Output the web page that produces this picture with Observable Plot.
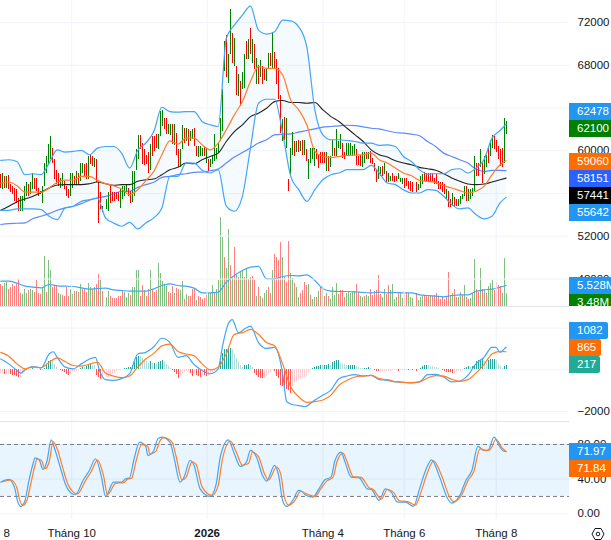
<!DOCTYPE html>
<html><head><meta charset="utf-8">
<script src="https://cdn.jsdelivr.net/npm/d3@7"></script>
<script src="https://cdn.jsdelivr.net/npm/@observablehq/plot@0.6"></script>
<style>
html,body{margin:0;padding:0;background:#fff;overflow:hidden}
#root{position:relative;width:611px;height:540px;overflow:hidden;font-family:"Liberation Sans",sans-serif}
#root svg{position:absolute;left:0}
.tag{position:absolute;left:569px;color:#fff;font-size:11.5px;padding-left:8px;box-sizing:border-box;line-height:17px;overflow:hidden;white-space:nowrap}
.sep{position:absolute;left:0;width:569px;height:1px;background:#e0e3eb}
</style></head><body><div id="root"></div>
<script>
// ---- Price bars, thousands ----
const priceHigh = [
57.8,57.9,57.6,57.6,57.7,56.8,56.7,56.5,56.4,55.5,
55.7,55.7,56.7,57.0,56.8,57.0,57.9,57.4,57.4,56.5,
56.2,56.7,58.8,59.5,60.6,61.3,60.2,59.2,58.2,57.9,
57.4,57.9,57.1,56.7,56.4,57.9,57.9,57.6,58.1,57.9,
58.8,58.8,58.7,58.8,59.5,59.6,59.5,59.3,59.2,57.0,
56.1,54.8,55.4,56.1,56.7,56.1,56.1,56.1,56.1,56.4,
56.7,56.7,56.8,56.5,56.2,58.1,58.1,60.1,61.4,61.4,
60.7,60.1,59.6,59.8,60.6,61.3,61.3,61.5,61.5,63.7,
63.8,63.0,63.0,62.5,62.5,62.5,62.5,61.6,60.1,60.1,
62.4,62.1,62.1,62.0,61.8,62.0,62.1,60.4,60.4,60.4,
60.2,60.4,60.2,59.2,59.2,59.6,61.5,60.2,60.7,63.0,
65.7,70.2,70.8,69.0,73.2,71.0,70.5,67.9,67.1,66.5,
67.3,69.0,70.2,70.4,71.4,70.4,69.9,68.6,68.0,68.4,
67.9,67.6,67.7,69.1,69.1,71.1,69.2,68.5,67.7,65.2,
62.9,63.1,63.0,57.3,60.2,61.7,60.9,60.9,61.0,60.9,
61.0,61.0,60.1,59.2,60.2,60.2,60.2,60.1,59.6,59.8,
59.8,59.8,59.8,59.5,59.5,61.0,60.2,62.0,60.9,61.5,
60.7,59.8,60.7,60.7,60.7,60.4,60.6,60.1,59.5,59.6,
59.8,59.8,59.8,59.8,59.9,59.3,58.8,58.2,58.5,58.4,
58.5,58.8,58.1,57.9,57.6,57.9,57.6,57.6,57.9,57.4,
57.4,57.4,57.4,57.1,57.1,57.0,57.0,56.8,57.6,57.8,
58.0,57.9,57.9,57.9,57.9,57.4,57.8,57.1,57.0,57.0,
56.8,56.4,56.2,55.4,56.0,55.6,55.4,55.4,55.7,55.9,
56.7,56.7,56.4,56.4,56.5,59.5,58.8,58.8,60.1,58.8,
59.5,59.6,60.2,61.0,61.4,61.3,61.0,60.4,60.1,60.2,
63.0,62.7];
const priceLow = [
56.5,56.4,56.5,56.5,56.4,56.1,55.9,55.3,55.1,54.3,
54.3,54.3,55.3,55.7,55.7,55.9,56.4,56.4,56.2,55.7,
55.9,55.1,56.7,57.9,58.7,59.2,58.8,57.3,56.8,56.7,
56.5,56.7,56.4,55.7,55.5,55.7,56.5,56.8,56.8,56.8,
57.1,57.9,57.6,57.3,57.3,58.7,58.5,58.4,57.0,53.2,
54.5,54.2,54.5,54.3,55.1,55.3,55.3,55.4,55.3,54.6,
55.4,55.7,56.1,55.7,55.1,55.2,55.7,58.2,59.2,60.1,
58.7,58.6,58.7,57.9,58.2,59.5,59.9,60.2,60.1,61.3,
62.3,62.0,61.5,61.5,61.4,60.6,60.5,59.6,58.4,58.4,
60.1,60.7,60.9,60.4,60.9,61.1,60.4,59.5,59.4,59.5,
59.5,59.5,58.8,58.1,58.4,58.7,59.0,59.2,59.7,60.9,
61.8,67.4,66.9,66.3,69.0,68.2,67.9,65.2,65.1,64.1,
65.7,65.8,68.5,68.5,69.0,68.2,67.6,66.2,66.2,66.9,
66.2,66.6,66.5,67.6,67.9,67.7,67.6,66.2,64.8,61.6,
60.9,61.0,60.2,56.2,57.8,59.6,59.5,59.8,59.8,59.9,
59.6,59.6,59.0,57.3,58.8,59.2,58.5,59.2,58.3,58.8,
58.8,58.8,58.1,58.1,58.4,59.5,59.5,59.5,60.2,60.1,
59.3,59.2,59.5,59.6,59.5,59.5,59.6,58.6,58.6,58.5,
58.4,58.8,59.2,59.2,58.8,58.7,58.1,57.0,57.3,57.6,
57.6,57.8,56.9,57.0,57.1,57.1,57.0,57.1,57.3,57.0,
56.8,56.5,56.7,56.4,56.2,56.1,56.1,56.3,56.5,56.8,
57.1,57.1,57.1,57.1,57.1,56.8,56.8,56.4,56.4,56.1,
55.9,55.4,54.7,54.7,54.8,54.7,54.8,54.8,55.0,55.4,
55.7,55.3,55.3,55.4,55.7,56.2,57.6,57.6,58.4,56.9,
57.8,58.4,58.8,59.5,60.2,60.1,59.8,59.2,58.5,58.4,
58.8,61.5];
const barDir =
"rgrgrrrrrr"+"ggggrggrrr"+"rgggggrrrr"+"ggrrrggrgr"+"ggrrgrrgrr"+
"rgggrrrrrg"+"gggrrggggr"+"rrrrgrrrgg"+"grrggrgrrg"+"grgrggrrgg"+
"grgrgggggg"+"ggrggrgrgr"+"ggrgrgrgrg"+"rrggrgrrrr"+"grgrggrgrg"+
"rgrggggrrr"+"rrgrggrggg"+"rrgggggrrr"+"ggrgrrrrgg"+"rgrggrrrgg"+
"grrrrrrggg"+"rrrrrrrrrr"+"rgrrgrrggg"+"grggggrrgr"+"ggrggrrrrr"+"gg";

// ---- Volume, millions ----
const volume = [
5.8,5.3,6.1,6.4,4.6,4.9,5.8,5.3,5.8,7.1,
3.3,3.2,4.6,3.3,4.2,4.6,4.2,3.8,6.8,3.3,
3.2,4.9,13.2,3.7,12.1,9.5,4.9,5.3,5.3,3.3,
3.1,2.8,2.6,4.9,2.6,4.4,3.2,3.9,3.9,3.8,
5.8,4.5,4.8,3.8,6.1,4.9,4.6,4.9,5.8,8.4,
6.8,3.9,2.3,3.9,2.7,2.0,2.0,2.2,2.6,2.6,
4.2,3.7,2.3,3.3,2.9,4.9,4.9,9.5,9.6,2.6,
5.5,4.2,2.6,4.4,9.5,4.6,3.8,4.2,11.2,8.8,
6.6,5.8,5.3,3.6,3.3,5.3,3.3,4.8,4.4,4.2,
6.6,1.8,3.2,2.7,2.5,4.6,4.6,1.6,2.6,2.3,
1.8,2.0,2.9,3.5,3.3,5.5,3.3,4.6,6.8,23.5,
18.2,13.0,9.9,20.3,10.8,7.3,15.4,8.2,7.7,9.3,
9.6,7.7,9.9,7.1,7.5,7.9,6.8,2.5,5.1,2.7,
2.0,3.3,4.2,5.1,3.5,9.5,13.7,13.0,12.1,16.8,
13.0,7.7,6.4,17.2,8.6,7.3,6.0,5.1,2.3,3.3,
4.2,6.4,5.5,5.8,2.9,1.8,2.3,2.3,3.9,5.3,
5.3,2.6,3.5,2.5,1.8,4.9,2.9,6.0,3.2,4.2,
4.2,2.3,3.3,3.8,3.5,3.8,3.9,5.8,3.8,2.6,
2.3,2.6,2.9,2.5,4.6,2.9,4.0,4.2,8.2,3.2,
2.3,4.6,3.2,5.5,4.2,5.8,1.8,2.3,3.3,3.8,
2.0,3.3,3.8,3.3,2.3,2.0,3.3,1.6,2.3,2.5,
2.9,2.9,2.6,2.9,2.6,2.9,3.3,2.6,1.8,2.3,
1.8,2.3,9.0,2.9,3.5,4.4,2.3,2.3,3.8,2.9,
5.5,2.3,1.8,2.0,3.3,12.4,4.4,3.8,10.1,4.6,
4.2,3.5,5.3,6.1,6.8,4.2,6.4,5.5,5.3,3.3,
12.7,3.48];
const volDir =
"rrggrrrrrr"+"rgggrggrrr"+"rggrggrrrg"+"grrrrggrgr"+"grrrggrgrr"+
"grggrrrrrr"+"rgggrggggr"+"rgrrgrrrgg"+"gggrrrgrrg"+"grgrrrrgrr"+
"rrrgggrggg"+"grggrgrgrg"+"grgrgrrgrg"+"rggrrgrrrr"+"grrrggrggr"+
"rrrgrggrgr"+"grgrggggrr"+"rrgggggrrg"+"grggrrrrrr"+"ggrrggggrg"+
"grrgggrggg"+"rrrgrrrrrr"+"rrrggrrggr"+"grrgggrrgr"+"grgggrrrrg"+"gg";

// ---- Sampled indicator lines (bar index, then values) ----
const lineIdx = [0,4,8,12,16,20,24,28,32,36,40,44,48,52,56,60,64,68,72,76,
80,84,88,92,96,100,104,108,112,116,120,124,128,132,136,140,144,148,152,156,
160,164,168,172,176,180,184,188,192,196,200,204,208,212,216,220,224,228,232,236,
240,244,248,251];
const bbUpper = [59.10,59.16,59.00,57.76,57.85,57.76,58.85,60.09,59.88,59.94,
60.03,59.63,60.25,60.40,60.40,59.78,58.38,60.03,60.72,61.80,
64.07,63.67,63.61,63.67,63.67,62.74,62.43,62.27,70.51,71.76,
72.69,73.53,71.29,70.92,71.13,72.22,72.16,71.60,69.73,63.83,
61.49,61.03,61.03,60.96,60.87,60.72,60.72,60.50,60.56,60.40,
59.47,59.00,58.23,57.82,57.85,57.85,58.23,58.32,57.92,58.38,
59.16,61.18,61.90,62.478];
const bbLower = [54.43,54.43,54.56,54.56,54.56,54.50,53.87,53.56,54.65,54.81,
55.27,55.43,55.58,53.72,53.25,52.94,53.31,52.69,53.25,53.72,
54.65,57.61,57.61,58.85,58.85,58.17,57.92,58.23,54.81,54.34,
55.74,60.25,64.45,64.82,64.82,61.65,57.61,56.36,55.27,56.36,
57.29,57.76,57.92,58.23,58.23,58.23,58.63,57.92,56.98,56.83,
56.36,56.05,56.05,56.36,56.30,55.74,54.96,54.56,54.65,54.03,
53.62,53.87,55.12,55.642];
const ma20 = [56.98,57.08,56.73,56.14,56.14,56.11,56.52,57.05,57.26,57.26,
57.61,57.61,57.23,56.92,56.73,56.42,55.89,56.36,57.20,58.07,
59.63,60.93,60.62,61.18,61.18,60.56,60.09,60.72,61.96,63.36,
64.60,66.47,67.87,67.71,67.71,67.09,64.76,63.83,62.43,59.94,
59.47,59.38,59.47,59.56,59.60,59.63,59.78,59.16,58.85,58.38,
57.92,57.67,57.23,57.14,57.05,56.73,56.52,56.27,56.05,56.21,
56.67,57.76,58.69,59.06];
const ma50 = [54.43,54.81,55.21,55.49,55.74,56.11,56.52,56.80,56.83,56.83,
56.83,56.92,57.08,56.92,56.76,56.83,56.83,57.14,57.29,57.36,
57.76,58.23,58.45,58.85,58.79,59.16,59.47,59.78,60.87,61.80,
62.43,63.20,63.52,63.98,64.60,64.70,64.51,64.51,64.45,64.51,
63.83,63.20,62.74,62.11,61.49,60.87,60.09,59.63,59.41,59.07,
58.85,58.69,58.45,58.32,58.17,57.86,57.45,57.14,56.89,56.83,
56.89,57.08,57.29,57.441];
const ma200 = [53.10,53.19,53.22,53.25,53.66,53.87,54.12,54.43,54.65,54.81,
55.06,55.37,55.58,55.74,55.96,56.21,56.21,56.58,56.83,57.05,
57.51,57.61,57.76,57.85,57.98,58.01,58.13,58.29,58.85,59.41,
59.84,60.25,60.72,61.03,61.49,61.55,61.59,61.74,61.90,62.05,
62.21,62.27,62.33,62.39,62.36,62.24,62.11,62.05,61.87,61.71,
61.65,61.55,61.40,60.87,60.40,59.78,59.47,59.16,58.85,58.29,
58.07,58.17,58.17,58.151];
const volMA = [6.67,6.67,6.14,5.35,5.09,4.91,5.79,5.44,5.35,5.26,
4.91,4.56,4.74,4.82,4.39,4.21,4.04,4.04,4.04,4.65,
5.53,5.96,5.53,5.35,4.82,3.60,3.60,3.77,6.40,8.16,
9.47,10.35,10.53,7.28,7.28,7.89,8.16,8.07,8.33,6.84,
4.65,4.04,3.95,3.95,3.86,3.68,3.60,3.77,3.60,3.68,
3.60,3.60,3.07,2.89,2.72,2.54,2.89,3.07,3.07,3.95,
4.39,4.56,5.09,5.528];

// ---- MACD ----
const macdIdx = [0,4,8,10,12,16,20,24,26,28,32,36,40,44,47,49,52,56,60,64,68,72,76,80,84,88,92,96,100,104,
108,110,113,115,118,122,124,128,132,136,140,142,144,148,151,156,160,164,168,172,176,180,184,188,192,196,
200,204,208,212,216,220,224,228,232,236,240,244,246,248,250,251];
const macdLine = [520,284,-32,-158,0,158,95,756,866,599,126,47,284,520,599,-32,-473,-504,-425,-189,756,835,1103,1512,1307,599,677,252,-32,-189,
47,1071,2205,2410,1780,2016,2095,1307,1024,1071,-189,-1528,-1638,-1717,-1764,-1449,-1213,-977,-425,-299,-236,-299,-268,-473,-504,-583,
-599,-630,-583,-236,-221,-347,-583,-536,-268,284,599,1071,1071,835,992,1082];
const macdSignal = [835,646,284,47,126,95,362,567,394,205,
173,268,362,-158,-299,-378,-299,126,520,788,
1150,1229,882,756,677,284,0,126,756,1701,
1780,1937,1701,1307,1150,284,-819,-1292,-1559,-1528,
-1449,-1213,-740,-504,-347,-299,-268,-425,-473,-567,
-599,-614,-583,-394,-284,-299,-457,-551,-473,-158,
252,756,882,865];
const macdHist = [
-190,-190,-220,-220,-220,-240,-250,-280,-320,-380,
-350,-240,-130,-60,20,30,50,30,20,0,
-30,-30,80,190,390,440,390,240,130,30,
-30,-60,-130,-220,-280,-190,-140,-130,-90,-50,
60,130,90,160,220,240,220,190,-280,-390,
-470,-440,-390,-350,-280,-220,-160,-90,-50,-30,
30,60,80,90,130,190,350,600,660,630,
540,440,380,320,380,320,320,280,350,410,
440,380,250,160,80,-20,-130,-240,-410,-320,
-190,-130,-90,-60,-190,-320,-220,-280,-320,-350,
-250,-280,-320,-320,-220,-130,-60,0,50,390,
790,950,980,1020,1040,950,710,540,380,190,
90,190,220,250,220,130,-160,-250,-350,-410,
-440,-410,-320,-240,-130,-30,-90,-320,-440,-760,
-790,-910,-950,-980,-1130,-790,-600,-550,-470,-470,
-390,-350,-320,-130,-30,80,90,160,160,220,
200,200,200,240,220,350,410,440,440,280,
250,240,200,200,200,200,220,160,110,80,
60,60,60,90,60,20,-30,-60,-90,-90,
-90,-90,-90,-60,-60,-50,-50,-50,-60,-50,
-30,-30,-30,-50,-30,-50,-60,-30,60,140,
190,220,200,170,160,110,90,60,30,-20,
-60,-110,-130,-140,-170,-170,-130,-90,-80,-30,
60,110,140,130,170,170,390,440,440,470,
380,320,440,470,470,470,440,240,160,60,
170,217];

// ---- Stochastic ----
const kIdx = [0,4,7,8,10,12,14,16,17,19,21,23,25,27,30,32,35,37,41,44,47,50,52,56,60,62,64,66,69,72,
73,76,78,80,84,86,89,91,94,96,99,104,107,109,113,116,119,122,124,127,130,132,136,138,140,142,145,148,150,151,
155,158,161,164,166,169,171,174,178,182,184,188,191,194,197,201,205,208,211,214,218,222,224,228,231,234,237,240,242,245,248,250,251];
const kVal = [36.5,39.6,28.8,17.3,8.5,15.4,38.5,57.7,64.6,62.3,51.2,61.5,85.4,73.1,50,34.6,23.8,22.3,39.2,50,
63.5,42.3,20,36.5,36.5,40.4,41.5,61.5,82.7,77.7,67.3,73.1,86.5,88.5,82.7,65.4,36.5,42.3,61.5,55.8,
28.8,20,34.6,65.4,85.4,69.2,54.6,59.6,73.1,65.4,44.2,37.7,55.8,44.2,15.4,8.5,15.4,26.9,25,22.3,
19.2,28.8,39.2,42.3,61.5,71.2,59.6,42.3,41.5,28.8,28.1,15.4,28.8,25,13.5,13.5,8.5,28.8,50,62.3,
42.3,17.3,12.3,21.2,38.5,50,77.7,73.1,73.1,88.5,76.9,71.9,71.97];
const dIdx = [1,5,8,9,11,13,15,17,18,20,22,24,26,28,31,33,36,38,42,45,48,51,53,57,61,63,65,67,70,73,
74,77,79,81,85,87,90,92,95,97,100,105,108,110,114,117,120,123,125,128,131,133,137,139,141,143,146,149,151,
153,156,159,162,165,167,170,172,175,179,183,185,189,192,195,198,202,206,209,212,215,219,223,225,229,232,235,238,241,243,246,249,251];
const dVal = [37,39,30,19,10,16,36,56,63,62,52,60,83,75,51,36,25,23,38,49,62,44,22,35,36,40,41,59,80,78,
69,72,84,88,83,67,39,42,60,57,31,21,33,62,84,71,56,58,71,66,46,39,54,46,18,10,15,26,24,
22,20,29,38,42,60,70,60,43,42,30,28,17,28,25,15,14,10,27,48,61,44,19,14,22,38,49,75,73,74,86,76,71.84];

// ---- Axes ----
const priceTicks = [72,68,64,60,56,52,48];
const macdTicks = [2000,0,-2000];
const stochTicks = [80,40,0];
const timeTicks = [-6,35.2,102.5,160,200.4,246.1];
const timeLabels = ["Tháng 8","Tháng 10","2026","Tháng 4","Tháng 6","Tháng 8"];
const yearLabel = "2026";

// ---- Last-value tags ----
const tagText = ["62478","62100","59060","58151","57441","55642","5.528M","3.48M","1082","865","217","71.97","71.84"];
const tagColor = ["#2196f3","#008000","#ff6d00","#2962ff","#000000","#2196f3","#2196f3","#008000","#2196f3","#ff6d00","#22ab94","#2196f3","#ff6d00"];

// ---- Styling / layout ----
const tagTop = [103,120,153,170,187,204,277,294,322,339,356,443,460];
const tagHeight = [17,17,17,17,17,17,17,12,17,17,17,17,17];
const tagWidth = [42,42,42,42,42,42,42,42,39,32,31,42,42];
const GRID = "#f0f3fa", UP = "#008000", DOWN = "#ff0000";
const BLUE = "#42a5f5", ORANGE = "#ff7f27";
const FS = 11.5;
const xDomain = [-0.164, 282.5];
const bars = d3.range(priceHigh.length);
const root = document.getElementById("root");
const fontStyle = {fontFamily:'"Liberation Sans",sans-serif',fontSize:FS+"px",color:"#131722",background:"transparent"};

// Bars are 1px wide: keep each on a whole pixel column of the 2px bar pitch.
const pxPerBar = 569/(xDomain[1]-xDomain[0]);
const barX = i => { const px=(i-xDomain[0])*pxPerBar; return 2*Math.round(px/2)/pxPerBar+xDomain[0]; };

function place(svg, top){ svg.style.top = top + "px"; root.appendChild(svg); }
function base(height, y, marks, extra){
  return Plot.plot(Object.assign({width:611,height,marginLeft:0,marginRight:42,marginTop:0,marginBottom:0,
    x:{domain:xDomain,axis:null},y:Object.assign({axis:null},y),color:{type:"identity"},style:fontStyle,marks},extra||{}));
}
function axis(ticks, fmt){
  return Plot.axisY(ticks,{anchor:"right",tickSize:0,tickPadding:8,tickFormat:fmt,label:null,fontSize:FS});
}
const xGrid = Plot.ruleX(timeTicks.slice(1),{stroke:GRID,strokeWidth:1});
const zip = (idx, vals) => idx.map((i,k)=>({i,v:vals[k]}));
const line = (idx, vals, stroke, w=1.2, o=1) => Plot.line(zip(idx,vals),{x:"i",y:"v",stroke,strokeWidth:w,strokeOpacity:o,curve:"monotone-x"});

// Volume (under price, same pane)
place(base(307,{domain:[0,80.5],range:[306,0]},[
  Plot.ruleX(bars,{x:barX,y1:0,y2:i=>volume[i],stroke:i=>volDir[i]==="g"?UP:DOWN,strokeOpacity:0.5,strokeWidth:1,shapeRendering:"crispEdges"}),
  line(lineIdx,volMA,BLUE)
]),0);

// Price
const bandData = lineIdx.map((i,k)=>({i,lo:bbLower[k],hi:bbUpper[k]}));
place(base(307,{domain:[45.43,74.06],range:[306,0]},[
  Plot.ruleY(priceTicks,{stroke:GRID}),
  xGrid,
  Plot.areaY(bandData,{x:"i",y1:"lo",y2:"hi",fill:"#2196f3",fillOpacity:0.05,curve:"monotone-x"}),
  Plot.ruleX(bars,{x:barX,y1:i=>priceLow[i],y2:i=>priceHigh[i],stroke:i=>barDir[i]==="g"?UP:DOWN,strokeWidth:1,shapeRendering:"crispEdges"}),
  line(lineIdx,ma200,"#2962ff",1.2,0.75),
  line(lineIdx,ma50,"#222222",1.1),
  line(lineIdx,ma20,ORANGE),
  line(lineIdx,bbUpper,BLUE),
  line(lineIdx,bbLower,BLUE),
  axis(priceTicks,d=>String(d*1000))
]),0);

// MACD
const histColor = i => {
  const v=macdHist[i], p=i?macdHist[i-1]:v;
  return v>=0 ? (v>=p?"#26a69a":"#b2dfdb") : (v<p?"#ff5252":"#ffcdd2");
};
place(base(114,{domain:[-2480,2988],range:[114,0]},[
  Plot.ruleY(macdTicks,{stroke:GRID}),
  xGrid,
  Plot.ruleX(bars,{x:barX,y1:0,y2:i=>macdHist[i],stroke:histColor,strokeWidth:1,shapeRendering:"crispEdges"}),
  line(macdIdx,macdLine,BLUE),
  line(lineIdx,macdSignal,ORANGE),
  axis(macdTicks,d3.format("d"))
]),307);

// Stochastic + time axis
const timeRows = timeTicks.map((t,k)=>({t,label:timeLabels[k]}));
const timeText = (rows, weight) => Plot.text(rows,{x:"t",text:"label",frameAnchor:"bottom",lineAnchor:"middle",dy:14,fontSize:FS,fill:"#131722",fontWeight:weight});
place(base(119,{domain:[-6.6,106.5],range:[98,0]},[
  Plot.ruleY(stochTicks,{stroke:GRID}),
  xGrid,
  Plot.rectY([0],{x1:xDomain[0],x2:xDomain[1],y1:20,y2:80,fill:"#2196f3",fillOpacity:0.1}),
  Plot.ruleY([80,20],{stroke:"#787b86",strokeDasharray:"4,3",strokeWidth:1}),
  line(kIdx,kVal,BLUE),
  line(dIdx,dVal,ORANGE),
  axis(stochTicks,d3.format(".2f")),
  timeText(timeRows.filter(d=>d.label!==yearLabel),"normal"),
  timeText(timeRows.filter(d=>d.label===yearLabel),"bold")
],{marginBottom:21}),421);

// Separators
[306,421].forEach(y=>{const s=document.createElement("div");s.className="sep";s.style.top=y+"px";root.appendChild(s);});

// Tags
tagText.forEach((t,k)=>{
  const d=document.createElement("div");d.className="tag";d.textContent=t;
  d.style.top=tagTop[k]+"px";d.style.height=tagHeight[k]+"px";d.style.width=tagWidth[k]+"px";d.style.background=tagColor[k];
  if(tagWidth[k]<42)d.style.borderRadius="0 2px 2px 0";
  root.appendChild(d);
});

// Settings glyph
const ns="http://www.w3.org/2000/svg";
const g=document.createElementNS(ns,"svg");g.setAttribute("width",14);g.setAttribute("height",14);g.style.left="591px";g.style.top="527px";
g.innerHTML='<path d="M4 1.5h6l3 5.5-3 5.5H4L1 7z" fill="none" stroke="#131722" stroke-width="1"/><circle cx="7" cy="7" r="1.8" fill="none" stroke="#131722" stroke-width="1"/>';
root.appendChild(g);
</script></body></html>
